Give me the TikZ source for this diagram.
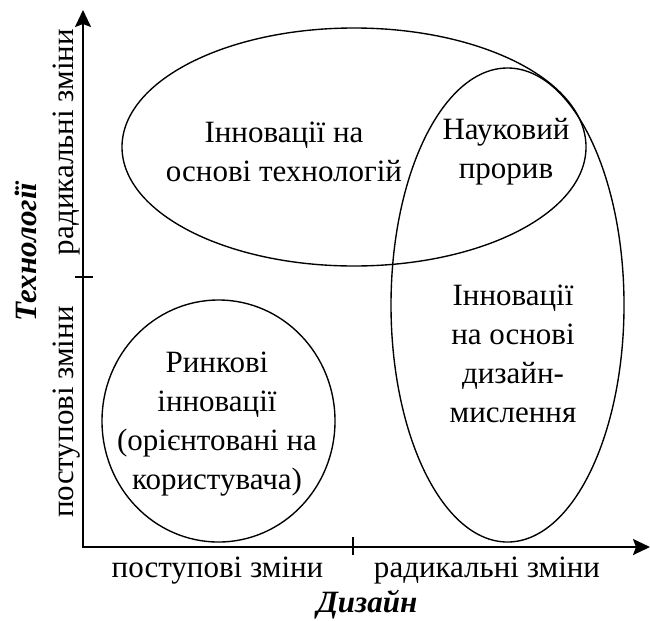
\documentclass[tikz,border=0pt]{standalone}
\usepackage{fontspec}
\setmainfont{Liberation Serif}
\usepackage{tikz}
\usetikzlibrary{arrows.meta,positioning,shapes.geometric,calc}

\begin{document}
\begin{tikzpicture}[
  x=0.4pt, y=-0.4pt,
  zone/.style={ellipse, draw, line width=0.55pt, inner sep=0pt},
  txt/.style={align=center, inner sep=0pt,
    font=\fontsize{12.4}{15.6}\selectfont},
  ttl/.style={inner sep=0pt,
    font=\fontsize{12.4}{15.6}\selectfont\bfseries\itshape},
  axes/.style={{Stealth[length=6.8pt,width=6.4pt,inset=1.2pt]}-{Stealth[length=6.8pt,width=6.4pt,inset=1.2pt]},
    line width=0.8pt},
  tickmark/.style={line width=0.8pt},
]
\useasboundingbox (0,0) rectangle (650,620);

% axes
\coordinate (ytop) at (83,10);
\coordinate (xend) at (650,547);
\draw[axes] (ytop) |- (xend);

\coordinate (ymid) at (83,277);
\coordinate (xmid) at (353,547);
\draw[tickmark] ($(ymid)+(-8,0)$) -- ($(ymid)+(10,0)$);
\draw[tickmark] ($(xmid)+(0,-10)$) -- ($(xmid)+(0,8)$);

% zones
\node[zone, minimum width=185.6pt, minimum height=95.2pt] (tech)   at (354,147)   {};
\node[zone, minimum width=93.2pt,  minimum height=189.6pt] (design) at (507.5,305) {};
\node[zone, minimum width=93.2pt,  minimum height=96.8pt]  (market) at (218.5,421) {};

\node[txt] (techtxt)   at (284,152) {Інновації на\\основі технологій};
\node[txt] (scitxt)    at (506,152) {Науковий\\прорив};
\node[txt] (designtxt) at (513,354) {Інновації\\на основі\\дизайн-\\мислення};
\node[txt] (markettxt) at (217,424) {Ринкові\\інновації\\(орієнтовані на\\користувача)};

% axis labels
\node[txt, rotate=90, anchor=base] (yrad)   at (73,142)    {радикальні зміни};
\node[txt, rotate=90, anchor=base] (yinc)   at (73,412)    {поступові зміни};
\node[ttl, rotate=90, anchor=base] (ytitle) at (36,252)    {Технології};
\node[txt, anchor=base]            (xinc)   at (217.5,577) {поступові зміни};
\node[txt, anchor=base]            (xrad)   at (487,577)   {радикальні зміни};
\node[ttl, anchor=base]            (xtitle) at (367,612)   {Дизайн};
\end{tikzpicture}
\end{document}
